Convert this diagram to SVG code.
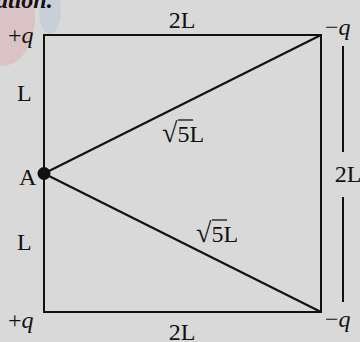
<svg xmlns="http://www.w3.org/2000/svg" width="360" height="342" viewBox="0 0 360 342">
<defs>
<style>
.t{font-family:"Liberation Serif","DejaVu Serif",serif;font-size:24px;fill:#111}
.q{font-style:italic}
.ln{stroke:#111;stroke-width:2;fill:none}
.bg{fill:#d9d9d9}
</style>
</defs>
<rect class="bg" x="0" y="0" width="360" height="342"/>
<g id="watermark" opacity="0.45">
<ellipse cx="2" cy="18" rx="33" ry="48" fill="#dca8ae"/>
<ellipse cx="50" cy="10" rx="11" ry="24" fill="#b2c6da"/>
</g>
<text class="t" x="-4" y="8" style="font-weight:bold;font-style:italic;font-size:24px">ation.</text>
<g id="connectors">
<line class="ln" x1="44" y1="173.5" x2="321" y2="35"/>
<line class="ln" x1="44" y1="173.5" x2="321" y2="312"/>
<line class="ln" x1="343" y1="46" x2="343" y2="152"/>
<line class="ln" x1="343" y1="197" x2="343" y2="302"/>
</g>
<g id="square">
<rect class="ln" x="44" y="35" width="277" height="277"/>
</g>
<g id="A">
<circle cx="44" cy="173.5" r="6.5" fill="#111"/>
<text class="t" x="19" y="185">A</text>
</g>
<g id="charge-tl"><text class="t" x="8" y="43">+<tspan class="q">q</tspan></text></g>
<g id="charge-tr"><text class="t" x="325" y="35">−<tspan class="q">q</tspan></text></g>
<g id="charge-bl"><text class="t" x="8" y="328">+<tspan class="q">q</tspan></text></g>
<g id="charge-br"><text class="t" x="325" y="327">−<tspan class="q">q</tspan></text></g>
<g id="labels">
<text class="t" x="182" y="28" text-anchor="middle">2L</text>
<text class="t" x="182" y="340" text-anchor="middle">2L</text>
<text class="t" x="348" y="182" text-anchor="middle">2L</text>
<text class="t" x="17" y="101">L</text>
<text class="t" x="17" y="250">L</text>
<text class="t" x="162" y="142"><tspan style="font-size:28px">√</tspan>5L</text>
<line class="ln" x1="178" y1="120" x2="193" y2="120" style="stroke-width:1.3"/>
<text class="t" x="196" y="242"><tspan style="font-size:28px">√</tspan>5L</text>
<line class="ln" x1="212" y1="220" x2="227" y2="220" style="stroke-width:1.3"/>
</g>
</svg>
